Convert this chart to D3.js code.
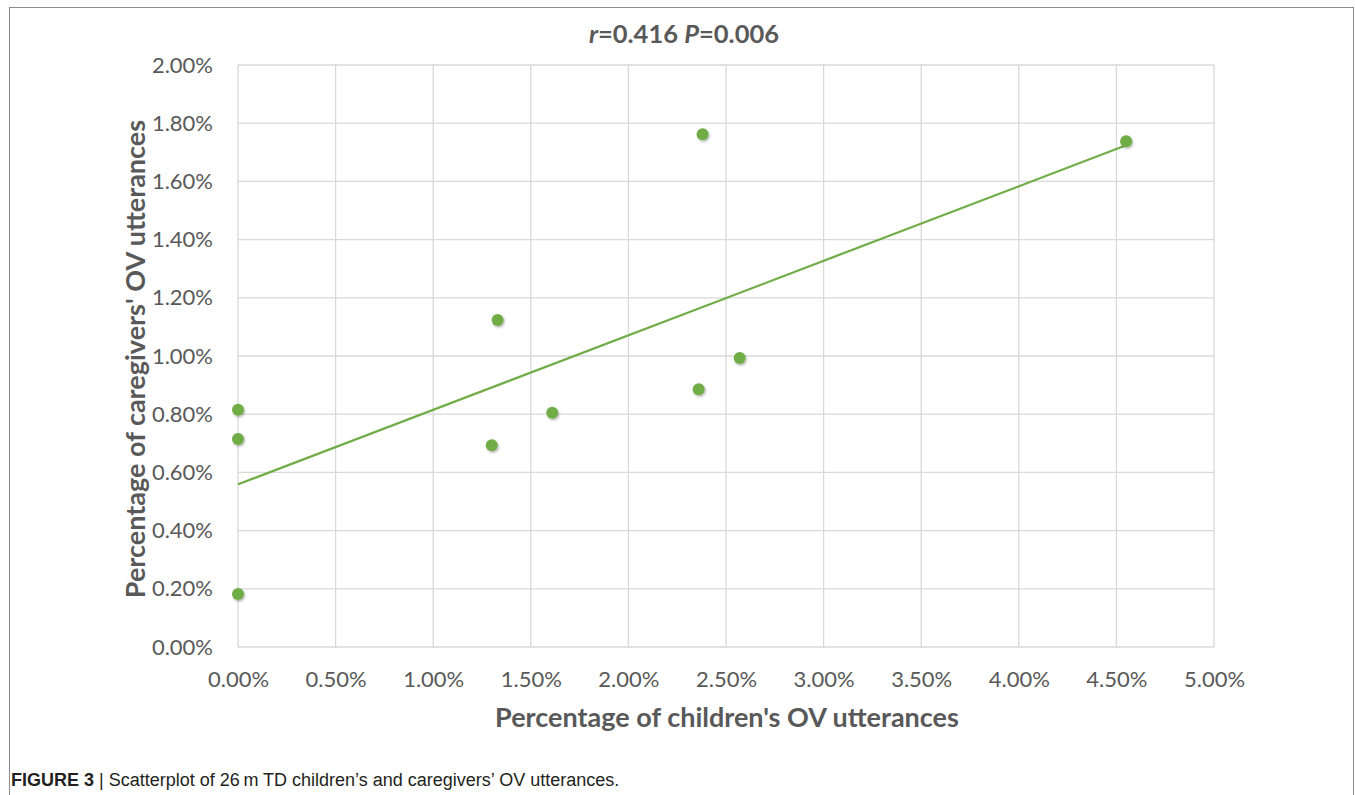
<!DOCTYPE html>
<html>
<head>
<meta charset="utf-8">
<script src="https://cdn.jsdelivr.net/npm/d3@7"></script>
<style>
  body { margin: 0; background: #fff; }
  svg { display: block; }
</style>
</head>
<body>
<div id="chart"></div>
<script>
// children's OV % (x) and caregivers' OV % (y)
const childPct = [0, 0, 0, 1.30, 1.33, 1.61, 2.36, 2.38, 2.57, 4.55]
const carePct = [0.815, 0.715, 0.182, 0.693, 1.124, 0.805, 0.886, 1.762, 0.993, 1.738]
// linear trendline end points
const trendX = [0, 4.55]
const trendY = [0.559, 1.724]
const xTicks = [0, 0.5, 1, 1.5, 2, 2.5, 3, 3.5, 4, 4.5, 5]
const yTicks = [0, 0.2, 0.4, 0.6, 0.8, 1, 1.2, 1.4, 1.6, 1.8, 2]

const W = 1355, H = 795
const margin = { top: 65, right: 141, bottom: 148, left: 238 }
const width = W - margin.left - margin.right
const height = H - margin.top - margin.bottom
const green = '#70ad47'
const txt = '#595959'
const font = 'Lato, "Open Sans", sans-serif'

const svg = d3.select('#chart').append('svg')
    .attr('width', W)
    .attr('height', H)

// frame
svg.append('rect')
    .attr('x', 9.5).attr('y', 7.5)
    .attr('width', 1344).attr('height', 800)
    .attr('fill', 'none').attr('stroke', '#8c8c8c').attr('stroke-width', 1)

const g = svg.append('g')
    .attr('transform', `translate(${margin.left},${margin.top})`)

const x = d3.scaleLinear().domain([0, 5]).range([0, width])
const y = d3.scaleLinear().domain([0, 2]).range([height, 0])

// grid
g.append('g').selectAll('line').data(xTicks).join('line')
    .attr('x1', d => x(d)).attr('x2', d => x(d))
    .attr('y1', 0).attr('y2', height)
    .attr('stroke', '#d9d9d9').attr('stroke-width', 1.3)
g.append('g').selectAll('line').data(yTicks).join('line')
    .attr('x1', 0).attr('x2', width)
    .attr('y1', d => y(d)).attr('y2', d => y(d))
    .attr('stroke', '#d9d9d9').attr('stroke-width', 1.3)

// axes (labels only)
const xAxis = g.append('g')
    .attr('transform', `translate(0,${height})`)
    .call(d3.axisBottom(x).tickValues(xTicks).tickSize(0).tickPadding(24).tickFormat(d => d.toFixed(2) + '%'))
const yAxis = g.append('g')
    .call(d3.axisLeft(y).tickValues(yTicks).tickSize(0).tickPadding(25).tickFormat(d => d.toFixed(2) + '%'))
for (const a of [xAxis, yAxis]) {
    a.select('.domain').remove()
    a.selectAll('text')
        .attr('fill', txt)
        .style('font-family', font)
        .style('font-size', '22px')
}

// trendline
g.append('path')
    .datum(trendX.map((d, i) => [d, trendY[i]]))
    .attr('fill', 'none')
    .attr('stroke', green)
    .attr('stroke-width', 2.2)
    .attr('d', d3.line().x(d => x(d[0])).y(d => y(d[1])))

// shadow
const defs = svg.append('defs')
const f = defs.append('filter').attr('id', 'sh').attr('x', '-50%').attr('y', '-50%').attr('width', '200%').attr('height', '200%')
f.append('feDropShadow').attr('dx', 1).attr('dy', 1.5).attr('stdDeviation', 1.2).attr('flood-color', '#000').attr('flood-opacity', 0.3)

g.append('g').selectAll('circle').data(childPct).join('circle')
    .attr('cx', d => x(d))
    .attr('cy', (d, i) => y(carePct[i]))
    .attr('r', 6)
    .attr('fill', green)
    .attr('filter', 'url(#sh)')

// title
const title = svg.append('text')
    .attr('x', 684).attr('y', 43)
    .attr('text-anchor', 'middle')
    .attr('fill', txt)
    .style('font-family', font)
    .style('font-size', '25.5px')
    .style('font-weight', 'bold')
title.append('tspan').style('font-style', 'italic').text('r')
title.append('tspan').text('=0.416 ')
title.append('tspan').style('font-style', 'italic').text('P')
title.append('tspan').text('=0.006')

// axis titles
svg.append('text')
    .attr('x', 727).attr('y', 727)
    .attr('text-anchor', 'middle')
    .attr('fill', txt)
    .style('font-family', font)
    .style('font-size', '27px')
    .style('font-weight', 'bold')
    .text("Percentage of children's OV utterances")

svg.append('text')
    .attr('transform', `translate(145,359) rotate(-90)`)
    .attr('text-anchor', 'middle')
    .attr('fill', txt)
    .style('font-family', font)
    .style('font-size', '27px')
    .style('font-weight', 'bold')
    .text("Percentage of caregivers' OV utterances")

// caption
const cap = svg.append('text')
    .attr('x', 11).attr('y', 786)
    .attr('fill', '#231f20')
    .style('font-family', '"Liberation Sans Narrow", "Liberation Sans", sans-serif')
    .style('font-size', '18px')
cap.append('tspan').style('font-weight', 'bold').text('FIGURE 3')
cap.append('tspan').text('  |  Scatterplot of 26\u2009m TD children\u2019s and caregivers\u2019 OV utterances.')
</script>
</body>
</html>
